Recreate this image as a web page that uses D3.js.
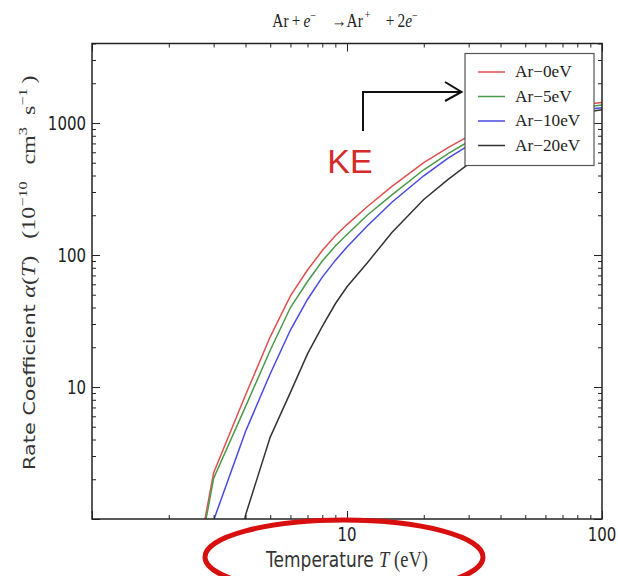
<!DOCTYPE html>
<html>
<head>
<meta charset="utf-8">
<script src="https://cdn.jsdelivr.net/npm/d3@7"></script>
<style>
  html, body { margin: 0; padding: 0; background: #fff; }
  svg { display: block; }
</style>
</head>
<body>
<svg id="chart" width="618" height="576"></svg>
<script>
// Electron temperature grid (eV)
const temperature = [2, 3, 4, 5, 6, 7, 8, 9, 10, 12, 15, 20, 25, 30, 40, 50, 60, 70, 80, 90, 100];

// Ionisation rate coefficient (1e-10 cm^3 s^-1) for each incident kinetic energy
const ar0eV  = [0.035, 2.24, 8.7, 24, 49, 77, 108, 140, 170, 232, 331, 500, 653, 794, 1000, 1122, 1216, 1288, 1349, 1396, 1430];
const ar5eV  = [0.03, 2.04, 7.1, 19, 40, 63, 90, 117, 143, 200, 285, 442, 589, 724, 933, 1059, 1161, 1230, 1288, 1334, 1368];
const ar10eV = [0.01, 0.98, 4.6, 12.6, 27, 46, 68, 91, 115, 166, 251, 398, 543, 676, 881, 1012, 1109, 1175, 1230, 1274, 1306];
const ar20eV = [0.001, 0.06, 1.07, 4.17, 9.1, 17.8, 28.8, 42.7, 57.5, 87, 148, 263, 376, 490, 700, 871, 1000, 1096, 1167, 1222, 1259];

const seriesNames  = ["Ar\u22120eV", "Ar\u22125eV", "Ar\u221210eV", "Ar\u221220eV"];
const seriesValues = [ar0eV, ar5eV, ar10eV, ar20eV];
const seriesColors = ["#e05050", "#4a9a4a", "#4a4ae0", "#333333"];

const xTickLabels = [10, 100];
const yTickLabels = [10, 100, 1000];

const svg = d3.select("#chart");
const plotL = 92, plotR = 602, plotT = 43.5, plotB = 519;
const SANS = "DejaVu Sans", SERIF = "Liberation Serif";
const STRETCH = 1.3;   // glyphs are drawn taller than wide

const x = d3.scaleLog().domain([1, 100]).range([plotL, plotR]);
const y = d3.scaleLog().domain([1, 4000]).range([plotB, plotT]);

// text anchored at (px,py) with its own scale
function label(px, py, sx, sy, extra = "") {
  return svg.append("text")
    .attr("transform", `translate(${px},${py}) scale(${sx},${sy}) ${extra}`)
    .attr("fill", "#222");
}

// minor/major tick values for log axes
function logTicks(lo, hi) {
  const major = [], minor = [];
  for (let d = 1; d <= hi; d *= 10) {
    for (let m = 1; m < 10; m++) {
      const v = d * m;
      if (v < lo || v > hi) continue;
      (m === 1 ? major : minor).push(v);
    }
  }
  return {major, minor};
}
const xt = logTicks(1, 100), yt = logTicks(1, 4000);

svg.append("defs").append("clipPath").attr("id", "plotClip")
  .append("rect").attr("x", plotL).attr("y", plotT)
  .attr("width", plotR - plotL).attr("height", plotB - plotT);

// curves
const line = d3.line().x(d => x(d[0])).y(d => y(d[1]));
const curves = svg.append("g").attr("clip-path", "url(#plotClip)");
seriesValues.forEach((vals, i) => {
  curves.append("path")
    .datum(temperature.map((t, j) => [t, vals[j]]))
    .attr("d", line)
    .attr("fill", "none")
    .attr("stroke", seriesColors[i])
    .attr("stroke-width", 1.5);
});

// ticks on all four sides, pointing inward
function styleAxis(g) {
  g.select(".domain").remove();
  g.selectAll(".tick line").attr("stroke", "#222").attr("stroke-width", 1);
  g.selectAll("text").remove();
}
const axes = [
  [() => d3.axisBottom(x), xt, `translate(0,${plotB})`],
  [() => d3.axisTop(x), xt, `translate(0,${plotT})`],
  [() => d3.axisLeft(y), yt, `translate(${plotL},0)`],
  [() => d3.axisRight(y), yt, `translate(${plotR},0)`]
];
axes.forEach(([mk, t, tr]) => {
  svg.append("g").attr("transform", tr)
    .call(mk().tickValues(t.minor).tickSize(-4).tickFormat(""))
    .call(styleAxis);
  svg.append("g").attr("transform", tr)
    .call(mk().tickValues(t.major).tickSize(-8).tickFormat(""))
    .call(styleAxis);
});

// tick labels
xTickLabels.forEach(v => {
  label(x(v), 541, 1, STRETCH).attr("text-anchor", "middle")
    .attr("font-family", SANS).attr("font-size", 15).text(v);
});
yTickLabels.forEach(v => {
  label(86, y(v), 1, STRETCH).attr("text-anchor", "end").attr("dy", "0.36em")
    .attr("font-family", SANS).attr("font-size", 15).text(v);
});

// frame
svg.append("rect").attr("x", plotL).attr("y", plotT)
  .attr("width", plotR - plotL).attr("height", plotB - plotT)
  .attr("fill", "none").attr("stroke", "#222").attr("stroke-width", 1.5);

// title: Ar + e- -> Ar+ + 2e-
const title = label(345, 27, 1.1, STRETCH).attr("text-anchor", "middle")
  .attr("font-family", SERIF).attr("font-size", 14);
title.append("tspan").text("Ar\u2009+\u2009");
title.append("tspan").attr("font-style", "italic").text("e");
title.append("tspan").attr("dy", -6).attr("font-size", 9).text("\u2212");
title.append("tspan").attr("dy", 6).text("\u2003\u2192Ar");
title.append("tspan").attr("dy", -6).attr("font-size", 9).text("\u2009+");
title.append("tspan").attr("dy", 6).text("\u2003+\u20092");
title.append("tspan").attr("font-style", "italic").text("e");
title.append("tspan").attr("dy", -6).attr("font-size", 9).text("\u2212");

// y label, reading bottom to top
const yl = label(35, 470, 1, STRETCH, "rotate(-90)").attr("text-anchor", "start").attr("fill", "#333");
yl.append("tspan").attr("font-family", SANS).attr("font-size", 16).text("Rate Coefficient ");
const ym = (t, opts = {}) => {
  const s = yl.append("tspan").attr("font-family", SERIF).attr("font-size", opts.size || 18.5).text(t);
  if (opts.italic) s.attr("font-style", "italic");
  if (opts.dy) s.attr("dy", opts.dy);
  return s;
};
ym("\u03b1", {italic: true}); ym("("); ym("T", {italic: true}); ym(")\u2002\u2009(10");
ym("\u221210", {size: 12.5, dy: -8}); ym("\u2002\u2009cm", {dy: 8});
ym("3", {size: 12.5, dy: -8}); ym("\u2002s", {dy: 8});
ym("\u22121", {size: 12.5, dy: -8}); ym("\u2009)", {dy: 8});

// x label
const xl = label(347, 567, 1, 1.2).attr("text-anchor", "middle").attr("fill", "#333");
xl.append("tspan").attr("font-family", SANS).attr("font-size", 17).text("Temperature ");
xl.append("tspan").attr("font-family", SERIF).attr("font-size", 18.5).attr("font-style", "italic").text("T");
xl.append("tspan").attr("font-family", SERIF).attr("font-size", 18.5).text(" (eV)");

// legend
const lg = svg.append("g");
lg.append("rect").attr("x", 465).attr("y", 53.5).attr("width", 129).attr("height", 112)
  .attr("fill", "#fff").attr("stroke", "#555").attr("stroke-width", 1.2);
seriesNames.forEach((name, i) => {
  const ry = 72 + i * 24.5;
  lg.append("line").attr("x1", 478).attr("x2", 505).attr("y1", ry).attr("y2", ry)
    .attr("stroke", seriesColors[i]).attr("stroke-width", 1.5);
  lg.append("text").attr("transform", `translate(515,${ry + 5}) scale(1.15,1.05)`)
    .attr("font-family", SERIF).attr("font-size", 15).attr("fill", "#222").text(name);
});

// annotation: KE arrow
svg.append("path")
  .attr("d", "M363,131 V92 H461")
  .attr("fill", "none").attr("stroke", "#111").attr("stroke-width", 2);
svg.append("path")
  .attr("d", "M445,82 L461.5,92 L445,101")
  .attr("fill", "none").attr("stroke", "#111").attr("stroke-width", 2);
svg.append("text").attr("x", 350).attr("y", 173).attr("text-anchor", "middle")
  .attr("font-family", "Liberation Sans").attr("font-size", 34).attr("fill", "#d42a2a").text("KE");

// highlight ring around the x-axis title
svg.append("ellipse").attr("cx", 344).attr("cy", 557).attr("rx", 139).attr("ry", 37)
  .attr("fill", "none").attr("stroke", "#d80f0f").attr("stroke-width", 5);
</script>
</body>
</html>
